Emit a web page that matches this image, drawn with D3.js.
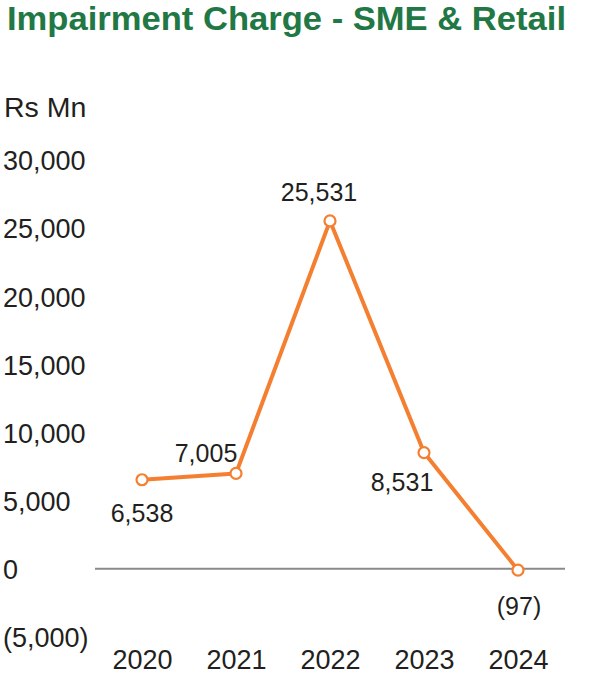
<!DOCTYPE html>
<html>
<head>
<meta charset="utf-8">
<script src="https://cdn.jsdelivr.net/npm/d3@7"></script>
<style>
html,body{margin:0;padding:0;background:#fff;}
svg{display:block;}
</style>
</head>
<body>
<script>
const years = ["2020","2021","2022","2023","2024"];
const values = [6538, 7005, 25531, 8531, -97];
const valueLabels = ["6,538","7,005","25,531","8,531","(97)"];
const yTicks = [-5000, 0, 5000, 10000, 15000, 20000, 25000, 30000];
const yTickLabels = ["(5,000)","0","5,000","10,000","15,000","20,000","25,000","30,000"];
// label offsets [dx, dy] relative to point
const labelOffsets = [[0,33],[-30,-20],[-11,-29],[-22,29],[1,36]];

const W = 600, H = 683;
const svg = d3.select("body").append("svg").attr("width", W).attr("height", H);
const font = "'Liberation Sans', Arial, sans-serif";

svg.append("text").attr("x", 7).attr("y", 30)
  .attr("font-family", "'Liberation Sans', Arial, sans-serif")
  .attr("font-weight", "bold").attr("font-size", 34).attr("fill", "#217845")
  .attr("textLength", 559).attr("lengthAdjust", "spacingAndGlyphs")
  .text("Impairment Charge - SME & Retail");

svg.append("text").attr("x", 4).attr("y", 117)
  .attr("font-family", font).attr("font-size", 28.5).attr("fill", "#231f20")
  .text("Rs Mn");

const x = d3.scalePoint().domain(years).range([95, 565]).padding(0.5);
const y = d3.scaleLinear().domain([-5000, 30000]).range([637, 160]);

// y tick labels
const yAxis = d3.axisLeft(y).tickValues(yTicks).tickSize(0)
  .tickFormat((d,i) => yTickLabels[i]);
const gy = svg.append("g").attr("transform", "translate(3,0)").call(yAxis);
gy.select(".domain").remove();
gy.selectAll("text").attr("text-anchor", "start").attr("x", 0).attr("dy", "0.36em")
  .attr("font-family", font).attr("font-size", 27).attr("fill", "#231f20");

// zero line
svg.append("line").attr("x1", 95).attr("x2", 565).attr("y1", y(0)).attr("y2", y(0))
  .attr("stroke", "#8a8a8c").attr("stroke-width", 2);

// x axis labels
const xAxis = d3.axisBottom(x).tickSize(0);
const gx = svg.append("g").attr("transform", "translate(0,650)").call(xAxis);
gx.select(".domain").remove();
gx.selectAll("text").attr("dy", "0.71em").attr("y", 0)
  .attr("font-family", font).attr("font-size", 27).attr("fill", "#231f20");

const data = years.map((yr, i) => ({yr, v: values[i], lbl: valueLabels[i], off: labelOffsets[i]}));

const line = d3.line().x(d => x(d.yr)).y(d => y(d.v));
svg.append("path").datum(data).attr("d", line)
  .attr("fill", "none").attr("stroke", "#f47f30").attr("stroke-width", 4)
  .attr("stroke-linejoin", "round");

svg.selectAll("circle.pt").data(data).enter().append("circle")
  .attr("class", "pt").attr("cx", d => x(d.yr)).attr("cy", d => y(d.v)).attr("r", 5.5)
  .attr("fill", "#fff").attr("stroke", "#f47f30").attr("stroke-width", 2.2);

svg.selectAll("text.vl").data(data).enter().append("text")
  .attr("class", "vl")
  .attr("x", d => x(d.yr) + d.off[0]).attr("y", d => y(d.v) + d.off[1])
  .attr("text-anchor", "middle").attr("dy", "0.36em")
  .attr("font-family", font).attr("font-size", 25).attr("fill", "#231f20")
  .text(d => d.lbl);
</script>
</body>
</html>
